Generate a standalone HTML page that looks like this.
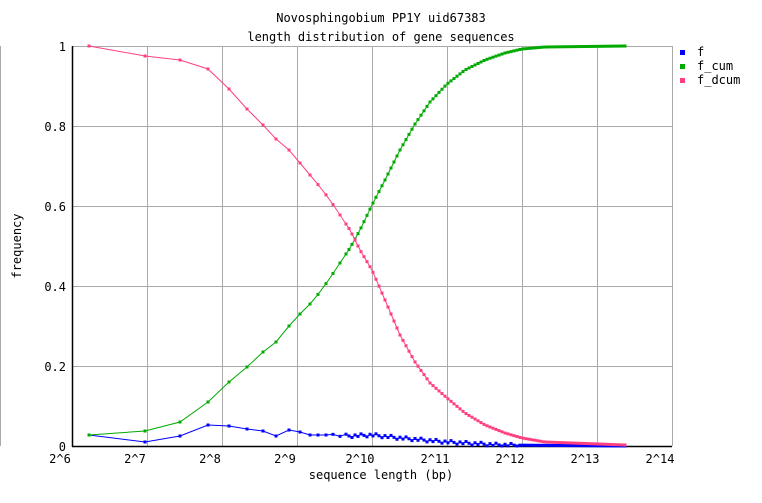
<!DOCTYPE html>
<html><head><meta charset="utf-8"><style>
body{margin:0;background:#fff}
svg text{font-family:"DejaVu Sans Mono","Liberation Mono",monospace;font-size:12px;fill:#000}
</style></head><body>
<svg id="s" width="762" height="498" xmlns="http://www.w3.org/2000/svg">
<rect width="762" height="498" fill="#fff"/>
<line x1="0.5" y1="46" x2="0.5" y2="446" stroke="#aaa"/>
<g stroke="#aaa" stroke-width="1" id="grid"></g>
<line x1="72.5" y1="46" x2="72.5" y2="447" stroke="#000" stroke-width="1.5"/>
<line x1="72" y1="446.5" x2="672" y2="446.5" stroke="#000" stroke-width="1.5"/>
<text x="381" y="22" text-anchor="middle">Novosphingobium PP1Y uid67383</text>
<text x="381" y="41" text-anchor="middle">length distribution of gene sequences</text>
<g text-anchor="end" font-size="11">
<text x="66" y="51">1</text><text x="66" y="131">0.8</text><text x="66" y="211">0.6</text>
<text x="66" y="291">0.4</text><text x="66" y="371">0.2</text><text x="66" y="451">0</text>
</g>
<g text-anchor="middle" id="xl"></g>
<text x="381" y="479" text-anchor="middle" font-size="11">sequence length (bp)</text>
<text transform="translate(21,246) rotate(-90)" text-anchor="middle" font-size="11">frequency</text>
<rect x="680" y="50" width="5" height="5" fill="#0000ff"/><text x="697" y="56" font-size="11">f</text>
<rect x="680" y="64" width="5" height="5" fill="#00aa00"/><text x="697" y="70" font-size="11">f_cum</text>
<rect x="680" y="78" width="5" height="5" fill="#ff4080"/><text x="697" y="84" font-size="11">f_dcum</text>
<g id="d"></g>
</svg>
<script>
var NS="http://www.w3.org/2000/svg",g=document.getElementById('grid'),xl=document.getElementById('xl'),d=document.getElementById('d');
function el(t,a,p){var e=document.createElementNS(NS,t);for(var k in a)e.setAttribute(k,a[k]);p.appendChild(e);return e;}
for(var i=1;i<=8;i++){var x=72+75*i+.5;el('line',{x1:x,y1:46,x2:x,y2:446},g);}
for(var i=1;i<=5;i++){var y=46+80*(i-1)+.5;el('line',{x1:72,y1:y,x2:672,y2:y},g);}
for(var i=0;i<=8;i++){var t=el('text',{x:72+75*i-12,y:463,'font-size':11},xl);t.textContent='2^'+(6+i);}
var cum=[[89,435],[145,431],[180,422],[208,402],[229,382],[247,367],[263,352],[276,342],[289,326],[300,314],[310,304],[320,292],[330,278],[340,263],[350,248],[360,230],[372,205],[385,180],[400,150],[415,124],[430,102],[447,84],[465,70],[485,60],[505,53],[522,49],[545,47],[625,46]];
var dc=[[89,46],[145,56],[180,60],[208,69],[229,89],[247,109],[263,125],[276,139],[289,150],[300,163],[310,175],[320,187],[330,200],[340,215],[350,230],[360,250],[372,270],[385,300],[400,335],[415,362],[430,383],[447,398],[465,413],[485,425],[505,433],[522,438],[545,442],[625,445]];
var f=[[89,435],[145,442],[180,436],[208,425],[229,426],[247,429],[263,431],[276,436],[289,430],[300,432],[310,435],[330,435],[350,436],[372,435],[400,438],[447,442],[500,445],[625,446]];
function ip(a,x){for(var i=1;i<a.length;i++)if(x<=a[i][0]){var p=a[i-1],q=a[i];return p[1]+(q[1]-p[1])*(x-p[0])/(q[0]-p[0]);}return a[a.length-1][1];}
var xs=[89,145,180,208,229,247,263,276,289,300,310,318,326,333,340];
for(var x=346;x<=625;x+=3)xs.push(x);
function series(a,c,j){var pts=xs.map(function(x,i){var y=ip(a,x);if(j&&x>330&&x<520)y+=((i*7)%5-2)*0.8;return [x,Math.min(446,y)];});
el('polyline',{points:pts.map(function(p){return p.join(',')}).join(' '),fill:'none',stroke:c,'stroke-width':1},d);
pts.forEach(function(p){el('rect',{x:p[0]-1.5,y:p[1]-1.5,width:3,height:3,fill:c},d);});}
series(f,'#0000ff',1);series(cum,'#00aa00');series(dc,'#ff4080');
</script>
</body></html>
